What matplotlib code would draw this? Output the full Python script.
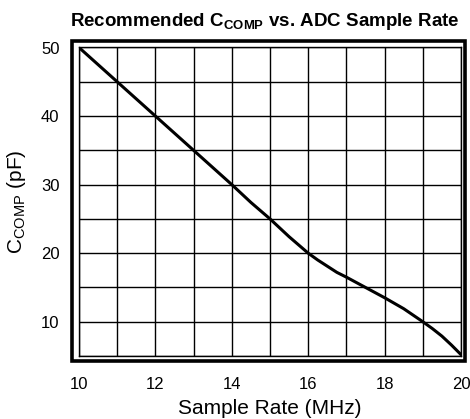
import matplotlib
matplotlib.use("Agg")
from matplotlib import pyplot as plt
from matplotlib.patches import Rectangle

plt.rcParams['font.family'] = ['Liberation Sans', 'DejaVu Sans']
plt.rcParams['mathtext.fontset'] = 'custom'
plt.rcParams['mathtext.rm'] = 'Liberation Sans'
plt.rcParams['mathtext.bf'] = 'Liberation Sans:bold'

# sample rate (MHz) and recommended Ccomp (pF)
rate = [10, 11, 12, 13, 14, 14.5, 15, 15.5, 16, 16.25, 16.5, 16.75, 17, 17.5,
        18, 18.5, 19, 19.25, 19.5, 19.75, 20]
ccomp = [50, 45, 40, 35, 30, 27.4, 25, 22.4, 20, 19.0, 18.1, 17.2, 16.5, 15.0,
         13.5, 11.9, 10, 9.0, 7.9, 6.6, 5.2]

xticks = [10, 12, 14, 16, 18, 20]
yticks = [10, 20, 30, 40, 50]

fig = plt.figure(figsize=(4.7, 4.19), dpi=100)
W, H = 470, 419
ax = fig.add_axes([79/W, 1-356/H, (461-79)/W, (356-47.5)/H])

ax.set_xlim(10, 20)
ax.set_ylim(5, 50)
for x in range(10, 21):
    ax.axvline(x, color='black', lw=1.0, zorder=1)
for y in range(5, 51, 5):
    ax.axhline(y, color='black', lw=1.0, zorder=1)

ax.plot(rate, ccomp, color='black', lw=2.2, zorder=3,
        solid_capstyle='round', solid_joinstyle='round')

ax.set_xticks(xticks)
ax.set_yticks(yticks)
ax.tick_params(length=0, labelsize=12)
ax.tick_params(axis='x', pad=15)
ax.tick_params(axis='y', pad=14)
for s in ax.spines.values():
    s.set_linewidth(1.0)

# thick outer frame
fig.add_artist(Rectangle((72/W, 1-361/H), (465-72)/W, (361-41)/H,
                         transform=fig.transFigure, fill=False,
                         edgecolor='black', lw=2.6))

ax.set_xlabel('Sample Rate (MHz)', fontsize=15, labelpad=5)
ax.set_ylabel(r'C$_{\mathregular{COMP}}$ (pF)', fontsize=15, labelpad=9)
fig.text(265/W, 1-22/H, r'Recommended C$_{\mathbf{COMP}}$ vs. ADC Sample Rate',
         ha='center', va='center', fontsize=13.5, fontweight='bold')

fig.savefig('out.png', dpi=100)
